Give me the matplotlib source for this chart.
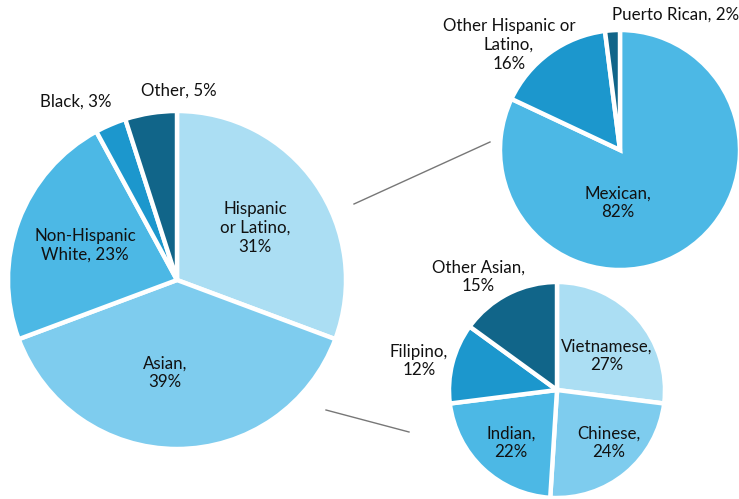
import matplotlib.pyplot as plt

plt.rcParams['font.family'] = ['Lato', 'DejaVu Sans']

# main breakdown
main_labels = ["Hispanic\nor Latino,\n31%", "Asian,\n39%", "Non-Hispanic\nWhite, 23%", "Black, 3%", "Other, 5%"]
main_values = [31, 39, 23, 3, 5]

# hispanic breakdown
hisp_labels = ["Mexican,\n82%", "Other Hispanic or\nLatino,\n16%", "Puerto Rican, 2%"]
hisp_values = [82, 16, 2]

# asian breakdown
asian_labels = ["Vietnamese,\n27%", "Chinese,\n24%", "Indian,\n22%", "Filipino,\n12%", "Other Asian,\n15%"]
asian_values = [27, 24, 22, 12, 15]

c_light = "#ABDEF3"
c_mid = "#7ECCEE"
c_blue = "#4CB8E5"
c_dark = "#1C97CD"
c_navy = "#116589"

W, H = 739, 499
fig = plt.figure(figsize=(W / 100, H / 100), dpi=100)
ax = fig.add_axes([0, 0, 1, 1])

wp = dict(edgecolor="white", linewidth=3.2)
txt = dict(fontsize=12.2, color="#111111", ha="center", va="center", linespacing=1.2)

# connector lines (px coords, y flipped)
ax.plot([354, 490], [H - 204, H - 142], color="#777777", lw=1)
ax.plot([326, 409], [H - 410, H - 432], color="#777777", lw=1)

ax.pie(main_values, colors=[c_light, c_mid, c_blue, c_dark, c_navy], startangle=90,
       counterclock=False, center=(177, H - 280), radius=169, wedgeprops=wp, frame=True)
ax.pie(hisp_values, colors=[c_blue, c_dark, c_navy], startangle=90,
       counterclock=False, center=(620, H - 150), radius=120, wedgeprops=wp, frame=True)
ax.pie(asian_values, colors=[c_light, c_mid, c_blue, c_dark, c_navy], startangle=90,
       counterclock=False, center=(557, H - 390), radius=108, wedgeprops=wp, frame=True)
ax.set_xlim(0, W)
ax.set_ylim(0, H)
ax.set_aspect("equal")
ax.axis("off")

main_pos = [(255, 228), (165, 373), (85, 245), (76, 102), (179, 91)]
for lab, (x, y) in zip(main_labels, main_pos):
    ax.text(x, H - y, lab, **txt)

hisp_pos = [(618, 203), (509, 45), (676, 15)]
for lab, (x, y) in zip(hisp_labels, hisp_pos):
    ax.text(x, H - y, lab, **txt)

asian_pos = [(607, 356), (609, 443), (511, 443), (419, 361), (478, 277)]
for lab, (x, y) in zip(asian_labels, asian_pos):
    ax.text(x, H - y, lab, **txt)

fig.savefig("out.png", dpi=100)
